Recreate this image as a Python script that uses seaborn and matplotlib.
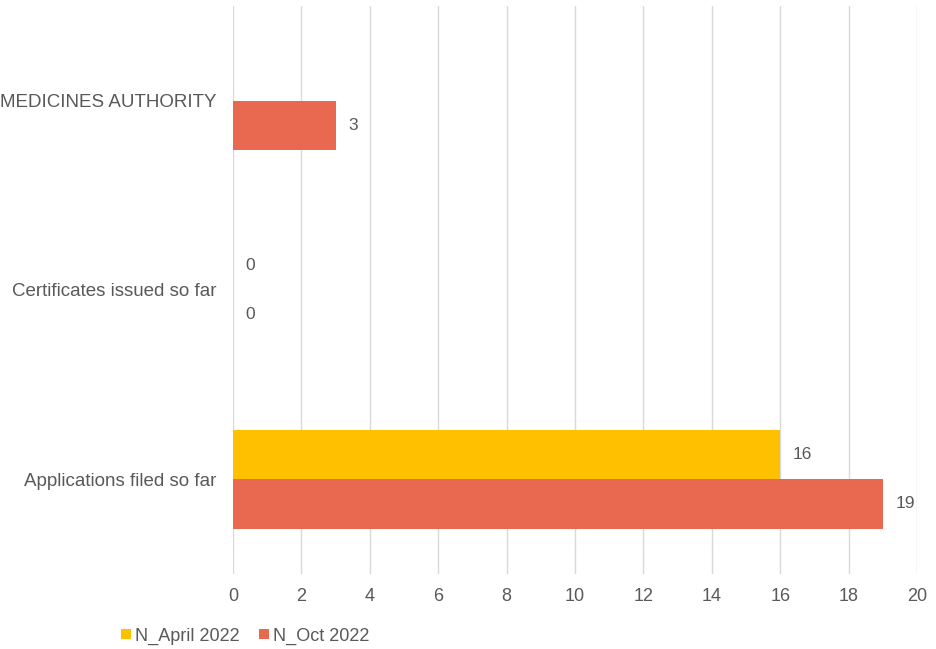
import numpy as np
import pandas as pd
import matplotlib
matplotlib.use("Agg")
import matplotlib.pyplot as plt
from matplotlib.patches import Patch
import seaborn as sns

categories = ["MEDICINES AUTHORITY", "Certificates issued so far", "Applications filed so far"]
series_names = ["N_April 2022", "N_Oct 2022"]
april_values = [np.nan, 0, 16]
oct_values = [3, 0, 19]
x_ticks = [0, 2, 4, 6, 8, 10, 12, 14, 16, 18, 20]
colors = ["#FFC000", "#E8694F"]

df = pd.DataFrame({
    "category": categories * 2,
    "series": [series_names[0]] * 3 + [series_names[1]] * 3,
    "value": april_values + oct_values,
})

sns.set_theme(style="white")
plt.rcParams["font.family"] = ["Liberation Sans", "DejaVu Sans"]

fig = plt.figure(figsize=(9.36, 6.49), dpi=100)
ax = fig.add_axes([233 / 936, 1 - 574 / 649, (917 - 233) / 936, (574 - 6) / 649])

sns.barplot(data=df, y="category", x="value", hue="series", order=categories,
            hue_order=series_names, palette=colors, width=0.52, orient="h",
            saturation=1, ax=ax, legend=False, edgecolor="none")

for cont in ax.containers:
    labels = []
    for v in cont.datavalues:
        labels.append("" if np.isnan(v) else f"{v:g}")
    ax.bar_label(cont, labels=labels, padding=9, fontsize=12.5, color="#595959")

ax.set_xlim(0, 20)
ax.set_ylim(2.5, -0.5)
ax.set_xticks(x_ticks)
ax.set_xticklabels([str(t) for t in x_ticks])
ax.xaxis.grid(True, color="#D9D9D9", linewidth=1)
ax.yaxis.grid(False)
ax.set_axisbelow(True)
for s in ax.spines.values():
    s.set_visible(False)
ax.tick_params(axis="x", length=0, pad=10, labelsize=13, labelcolor="#595959")
ax.tick_params(axis="y", length=0, pad=12, labelsize=13.5, labelcolor="#595959")
ax.set_xlabel("")
ax.set_ylabel("")

handles = [Patch(facecolor=c, edgecolor="none") for c in colors]
fig.legend(handles, series_names, loc="center left", bbox_to_anchor=(112 / 936, 1 - 636 / 649),
           ncol=2, frameon=False, fontsize=13, handlelength=0.55, handleheight=0.55,
           handletextpad=0.2, columnspacing=1.1, labelcolor="#595959", borderpad=0)

fig.savefig("out.png", dpi=100)
